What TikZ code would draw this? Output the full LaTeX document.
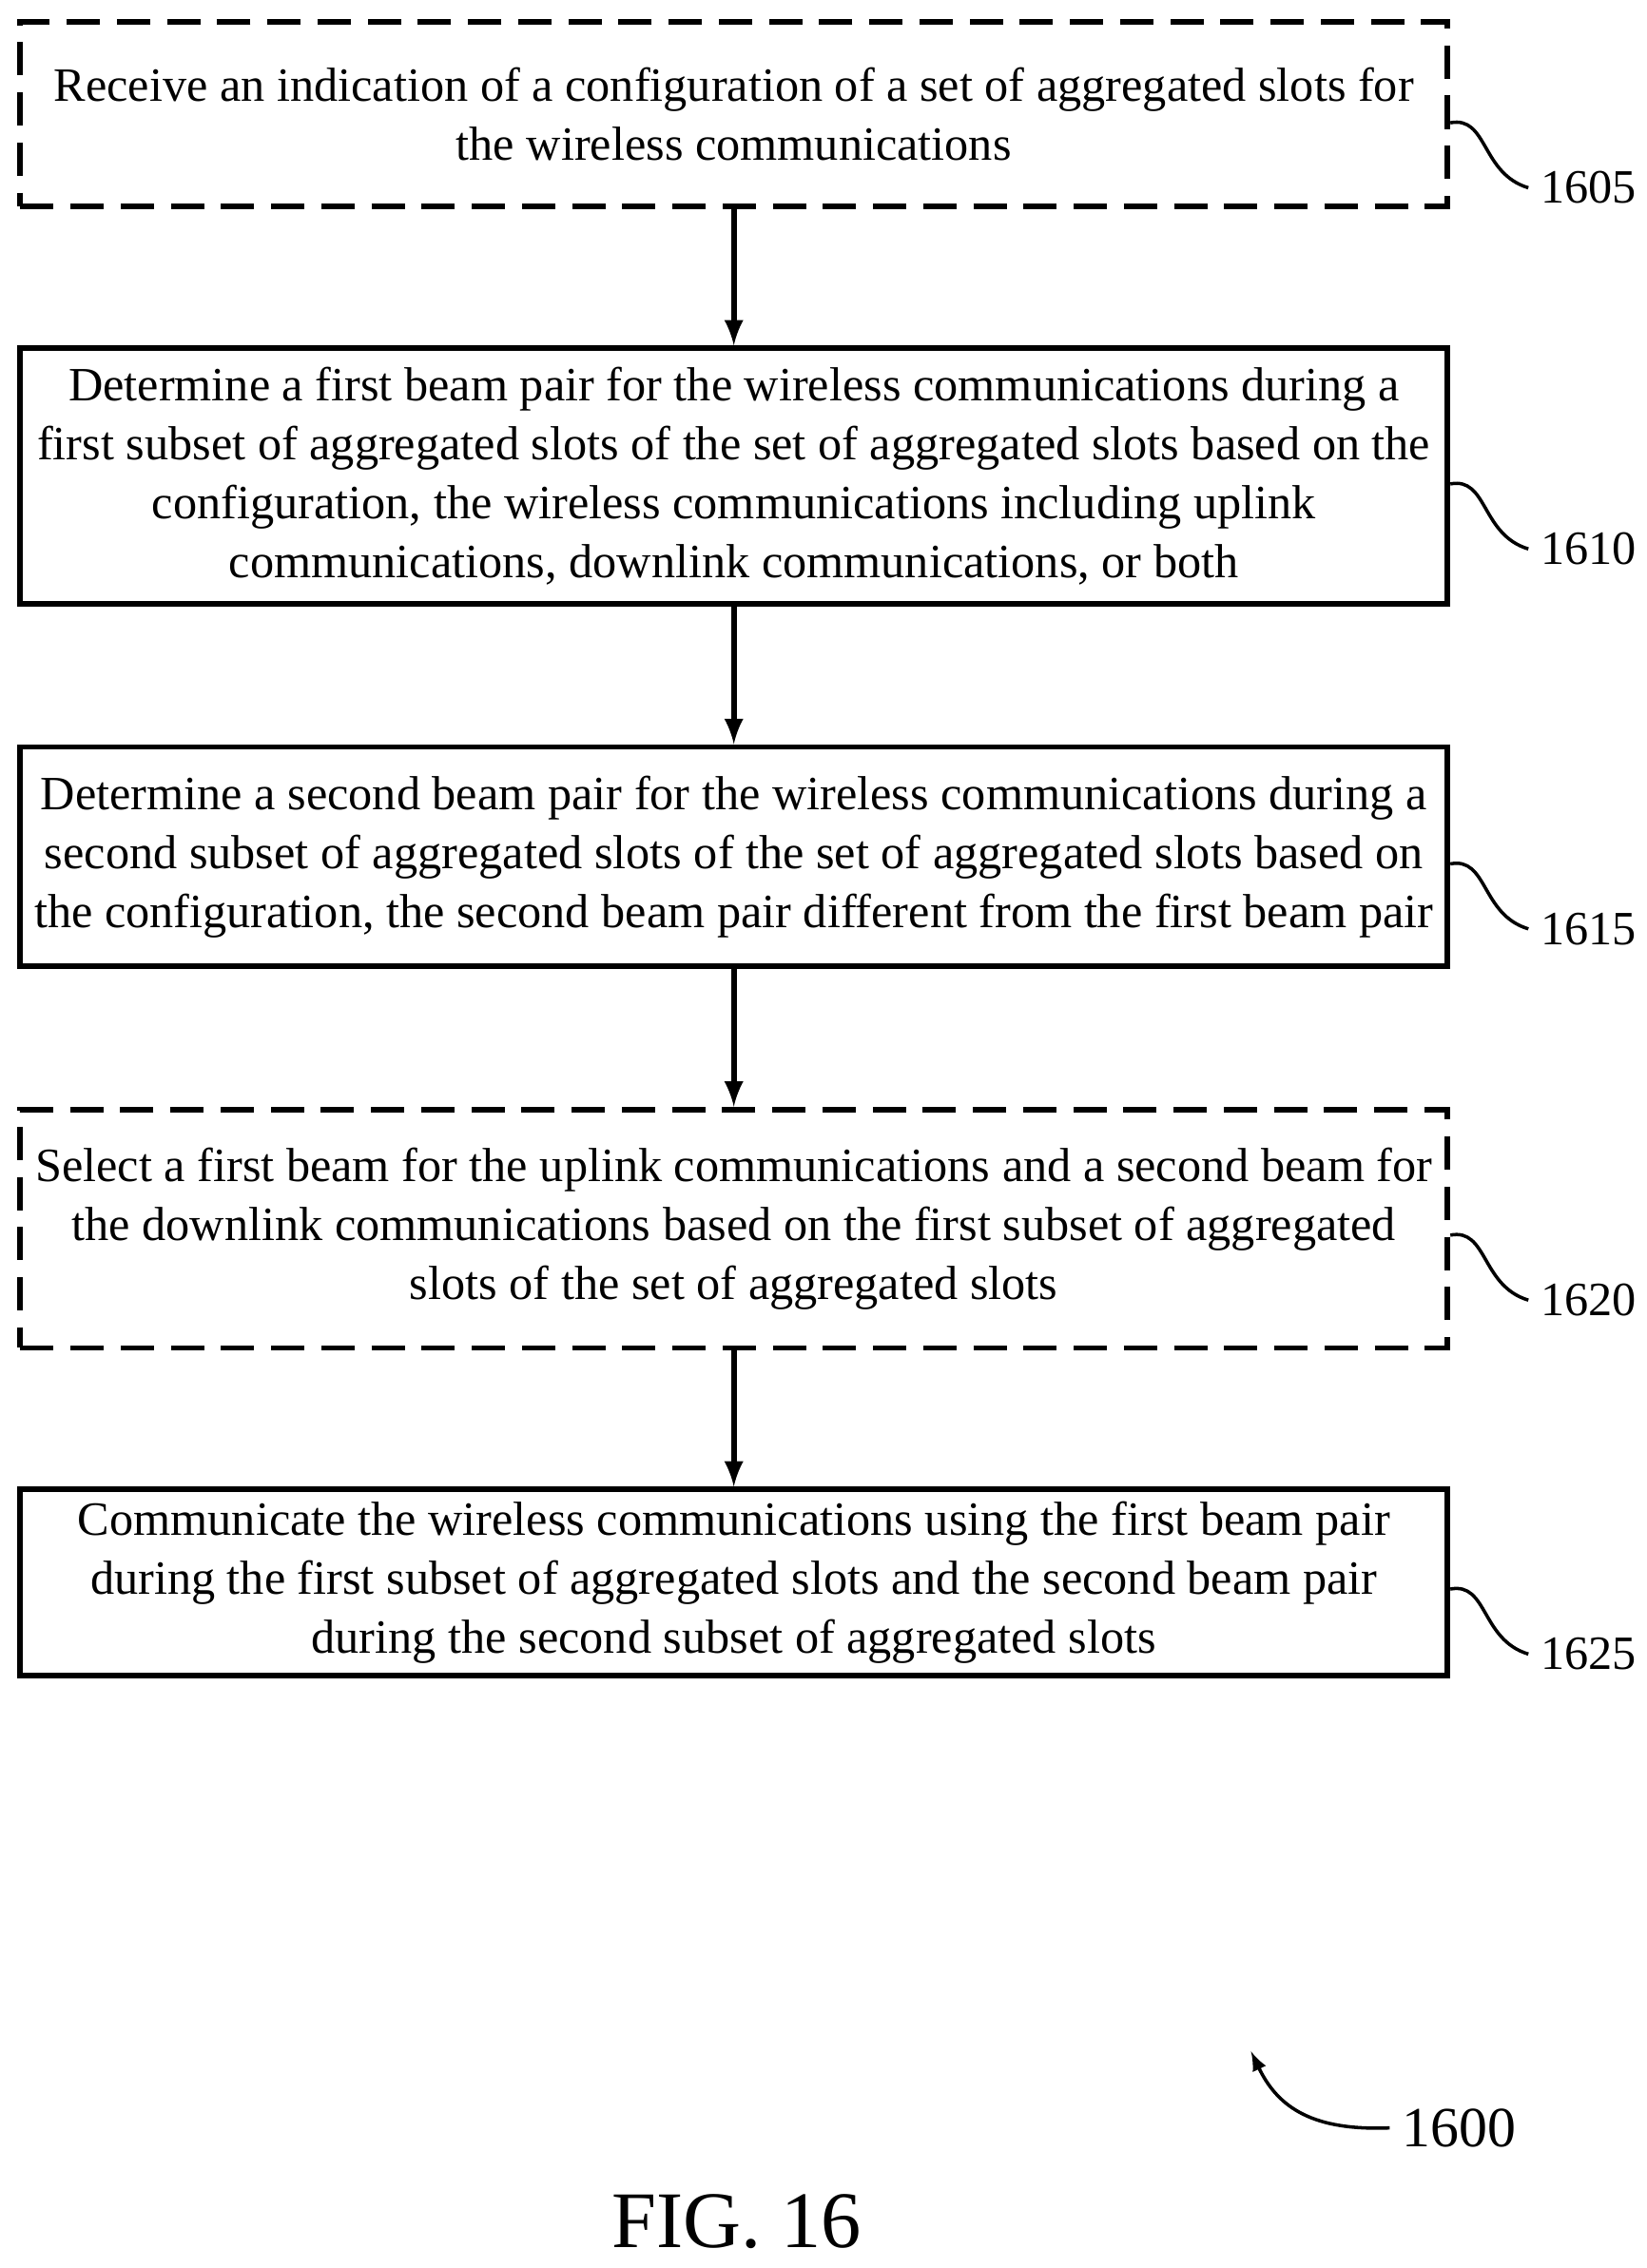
\documentclass[tikz,border=0pt]{standalone}
\usepackage{fontspec}
\setmainfont{Liberation Serif}
\usetikzlibrary{positioning}
\begin{document}
\begin{tikzpicture}[x=0.01519cm,y=-0.01519cm,thick,
  flowstep/.style={draw,line width=1.6pt,minimum width=988*0.01519cm,align=center,
    font=\fontsize{14.3}{17.6}\selectfont,inner sep=0pt},
  optstep/.style={flowstep,dash pattern=on 10pt off 5pt},
  lbl/.style={font=\fontsize{14.3}{17}\selectfont,anchor=west},
  tick/.style={line width=1pt}]
\useasboundingbox (0,0) rectangle (1140,1570);
\node[optstep,minimum height=128*0.01519cm] (s1605) at (508,79) {Receive an indication of a configuration of a set of aggregated slots for\\the wireless communications};
\node[flowstep,minimum height=177*0.01519cm] (s1610) at (508,329.5) {Determine a first beam pair for the wireless communications during a\\first subset of aggregated slots of the set of aggregated slots based on the\\configuration, the wireless communications including uplink\\communications, downlink communications, or both};
\node[flowstep,minimum height=152*0.01519cm] (s1615) at (508,593) {Determine a second beam pair for the wireless communications during a\\second subset of aggregated slots of the set of aggregated slots based on\\the configuration, the second beam pair different from the first beam pair};
\node[optstep,minimum height=165*0.01519cm] (s1620) at (508,850.5) {Select a first beam for the uplink communications and a second beam for\\the downlink communications based on the first subset of aggregated\\slots of the set of aggregated slots};
\node[flowstep,minimum height=129*0.01519cm] (s1625) at (508,1095.5) {Communicate the wireless communications using the first beam pair\\during the first subset of aggregated slots and the second beam pair\\during the second subset of aggregated slots};
\foreach \a/\b in {s1605/s1610,s1610/s1615,s1615/s1620,s1620/s1625}
  \draw[-latex,line width=1.6pt] (\a.south) -- (\b.north);
% reference numerals
\foreach \n/\y in {1605/85,1610/335,1615/598,1620/855,1625/1100}{
  \node[lbl] (l\n) at (1058,\y+45) {\n};
  \draw[tick] (1004,\y) .. controls (1030,\y-5) and (1025,\y+35) .. (l\n.west);
}
\node[lbl,font=\fontsize{17}{20}\selectfont] (l1600) at (962,1473) {1600};
\draw[tick,-latex] (l1600.west) .. controls (910,1475) and (885,1460) .. (866,1420);
\node[font=\fontsize{24}{28}\selectfont] (fig) at (510,1538) {FIG. 16};
\end{tikzpicture}
\end{document}
